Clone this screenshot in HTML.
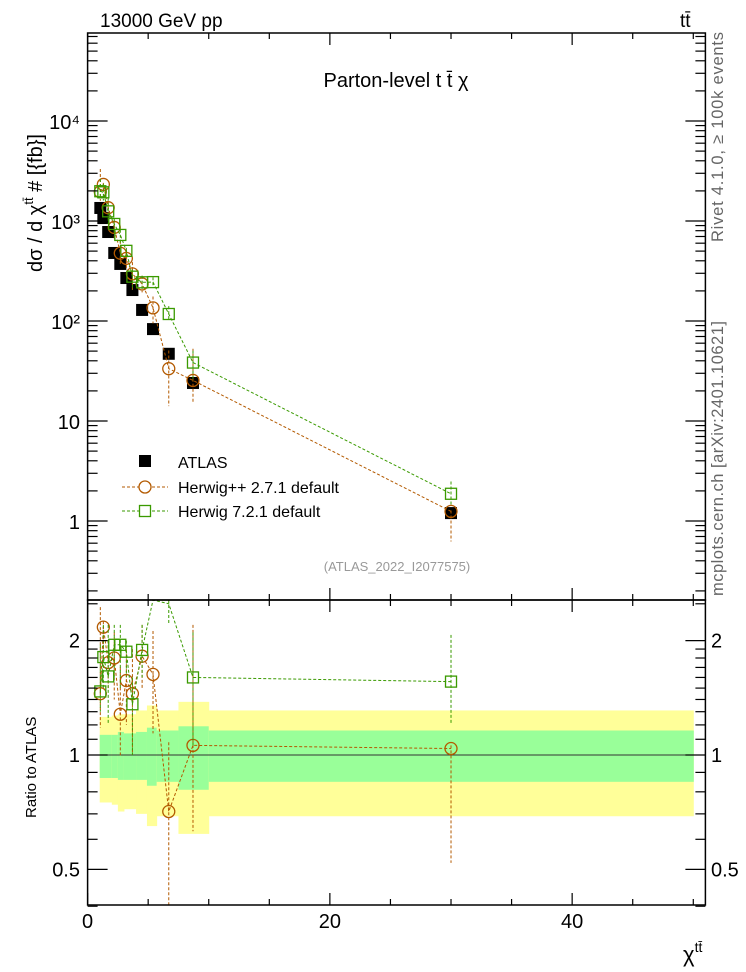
<!DOCTYPE html>
<html><head><meta charset="utf-8"><style>
body{margin:0;background:#fff;}
svg{display:block;font-family:"Liberation Sans","DejaVu Sans",sans-serif;}
</style></head><body>
<svg id="chart" width="746" height="972" viewBox="0 0 746 972" xmlns="http://www.w3.org/2000/svg">
<g id="bands"></g>
<g id="marks"></g>
<g id="axes"></g>
<text x="100" y="27" font-size="19">13000 GeV pp</text>
<text x="680" y="27" font-size="19">tt̄</text>
<text x="396" y="87" font-size="20" text-anchor="middle">Parton-level t t̄ χ</text>
<text x="397" y="571" font-size="13" fill="#999" text-anchor="middle">(ATLAS_2022_I2077575)</text>
<text transform="translate(723,242) rotate(-90)" font-size="16.5" fill="#666" textLength="210">Rivet 4.1.0, ≥ 100k events</text>
<text transform="translate(723,596) rotate(-90)" font-size="16.5" fill="#666" textLength="275">mcplots.cern.ch [arXiv:2401.10621]</text>
<text transform="translate(42,272) rotate(-90)" font-size="20">dσ / d χ<tspan dy="-9" font-size="13">tt̄</tspan><tspan dy="9"> # [{fb}]</tspan></text>
<text transform="translate(36,818) rotate(-90)" font-size="15">Ratio to ATLAS</text>
<text x="683" y="962" font-size="22">χ<tspan dy="-10" font-size="14">tt̄</tspan></text>
<g>
<rect x="139" y="455" width="12" height="12" fill="#000"/>
<text x="178" y="468" font-size="16">ATLAS</text>
<line x1="122" y1="487" x2="168" y2="487" stroke="#b35a00" stroke-dasharray="3,2"/>
<circle cx="145" cy="487" r="6" fill="#fff" stroke="#b35a00" stroke-width="1.3"/>
<text x="178" y="493" font-size="16">Herwig++ 2.7.1 default</text>
<line x1="122" y1="511" x2="168" y2="511" stroke="#3a9a00" stroke-dasharray="3,2"/>
<rect x="139.5" y="505.5" width="11" height="11" fill="#fff" stroke="#3a9a00" stroke-width="1.3"/>
<text x="178" y="517" font-size="16">Herwig 7.2.1 default</text>
</g>
</svg>
<script>
const xBins=[1.05,1.3,1.7,2.2,2.7,3.2,3.7,4.5,5.4,6.7,8.7,30];
const atlasVals=[1350,1070,776,479,372,269,204,129,83,47,24,1.2];
const hppRatio=[1.45,2.17,1.75,1.8,1.28,1.57,1.45,1.82,1.63,0.71,1.06,1.04];
const hppHi=[2.45,2.25,2.0,2.1,1.7,1.9,1.9,2.2,2.12,1.08,2.2,1.06];
const hppLo=[1.18,1.9,1.5,1.4,0.99,1.2,1.0,1.5,1.14,0.3,0.63,0.52];
const h7Ratio=[1.47,1.81,1.61,1.95,1.95,1.87,1.36,1.89,2.95,2.5,1.6,1.56];
const h7Hi=[1.95,2.2,2.2,2.2,2.2,2.0,1.6,2.2,3.3,3.0,2.1,2.07];
const h7Lo=[1.3,1.5,1.2,1.6,1.5,1.6,1.0,1.6,2.6,2.2,1.05,1.2];
const bandEdges=[1.0,2.0,2.5,3.0,4.0,4.9,5.7,7.5,10,50];
const yellowHi=[1.26,1.27,1.28,1.28,1.31,1.35,1.31,1.38,1.31];
const yellowLo=[0.75,0.74,0.71,0.72,0.70,0.65,0.69,0.62,0.69];
const greenHi=[1.13,1.13,1.15,1.14,1.15,1.18,1.16,1.19,1.16];
const greenLo=[0.87,0.87,0.86,0.86,0.86,0.83,0.85,0.81,0.85];
const xTicks=[0,20,40];
const mainTicks=[["10⁴",4],["10³",3],["10²",2],["10",1],["1",0]];
const ratioTicks=[["2",2],["1",1],["0.5",0.5]];

const NS="http://www.w3.org/2000/svg";
const L=87.6,R=705.4,T1=33,B1=600,T2=600,B2=905;
const X=v=>L+v*(R-L)/51;
const Y=v=>521-100*Math.log10(v);
const YR=r=>755-380*Math.log10(r);
function mk(tag,at,parent){const e=document.createElementNS(NS,tag);for(const k in at)e.setAttribute(k,at[k]);parent.appendChild(e);return e;}
const bands=document.getElementById('bands'),marks=document.getElementById('marks'),axes=document.getElementById('axes');
const cl=v=>Math.max(T1,Math.min(B1,v));
const clr=v=>Math.max(T2,Math.min(B2,v));
for(let i=0;i<bandEdges.length-1;i++){
  const x1=X(bandEdges[i]),x2=X(bandEdges[i+1]);
  const y=mk('rect',{x:x1,y:YR(yellowHi[i]),width:x2-x1+0.5,height:YR(yellowLo[i])-YR(yellowHi[i]),fill:'#ffff99'},bands);
  
  
  const g=mk('rect',{x:x1,y:YR(greenHi[i]),width:x2-x1+0.5,height:YR(greenLo[i])-YR(greenHi[i]),fill:'#99ff99'},bands);
  
  
}
const ref=mk('line',{x1:L,x2:R,y1:YR(1),y2:YR(1),stroke:'#333','stroke-width':1},bands);


function series(ratio,hi,lo,col,shape,name){
  let pm='',pr='';
  xBins.forEach((x,i)=>{
    const px=X(x);
    pm+=(i?'L':'M')+px+','+cl(Y(atlasVals[i]*ratio[i]));
    pr+=(i?'L':'M')+px+','+clr(YR(ratio[i]));
  });
  const l1=mk('path',{d:pm,fill:'none',stroke:col,'stroke-dasharray':'3,2','stroke-width':1},marks);
  
  
  const l2=mk('path',{d:pr,fill:'none',stroke:col,'stroke-dasharray':'3,2','stroke-width':1},marks);
  
  
  xBins.forEach((x,i)=>{
    const px=X(x);
    const e1=mk('line',{x1:px,x2:px,y1:cl(Y(atlasVals[i]*hi[i])),y2:cl(Y(atlasVals[i]*lo[i])),stroke:col,'stroke-dasharray':'3,2'},marks);
    
    
    const e2=mk('line',{x1:px,x2:px,y1:clr(YR(hi[i])),y2:clr(YR(lo[i])),stroke:col,'stroke-dasharray':'3,2'},marks);
    
    
    const pts=[[Y(atlasVals[i]*ratio[i]),T1,B1,'-point'],[YR(ratio[i]),T2,B2,'-ratio-point']];
    pts.forEach(([py,t,b,suf])=>{
      if(py<t+6||py>b-6)return;
      let m;
      if(shape==='c')m=mk('circle',{cx:px,cy:py,r:6,fill:'none',stroke:col,'stroke-width':1.3},marks);
      else m=mk('rect',{x:px-5.5,y:py-5.5,width:11,height:11,fill:'none',stroke:col,'stroke-width':1.3},marks);
      
      
    });
  });
}
xBins.forEach((x,i)=>{
  const s=mk('rect',{x:X(x)-6,y:Y(atlasVals[i])-6,width:12,height:12,fill:'#000'},marks);
  
  
});
series(hppRatio,hppHi,hppLo,'#b35a00','c','herwigpp');
series(h7Ratio,h7Hi,h7Lo,'#3a9a00','s','herwig7');
[[T1,B1,'main-frame'],[T2,B2,'ratio-frame']].forEach(([t,b,n])=>{
  const f=mk('rect',{x:L,y:t,width:R-L,height:b-t,fill:'none',stroke:'#000','stroke-width':1.5},axes);
  
  
});
function tk(x1,y1,x2,y2){mk('line',{x1,y1,x2,y2,stroke:'#000','stroke-width':1.2},axes);}
for(let v=0;v<=50;v+=5){
  const px=X(v),len=(v%20===0)?12:6;
  [T1,T2].forEach(t=>tk(px,t,px,t+len));
  [B1,B2].forEach(b=>tk(px,b,px,b-len));
}
xTicks.forEach(v=>{
  const t=mk('text',{x:X(v),y:928,'font-size':20,'text-anchor':'middle'},axes);t.textContent=v;
  
  
});
for(let d=-1;d<=4;d++){for(let m=1;m<=9;m++){
  const y=Y(m*Math.pow(10,d));if(y<T1||y>B1)continue;
  const len=m===1?20:10;tk(L,y,L+len,y);tk(R,y,R-len,y);
}}
mainTicks.forEach(([s,e])=>{
  const t=mk('text',{x:80,y:Y(Math.pow(10,e))+8,'font-size':20,'text-anchor':'end'},axes);t.textContent=s;
  
  
});
[0.4,0.5,0.6,0.7,0.8,0.9,1,1.1,1.2,1.3,1.4,1.5,1.6,1.7,1.8,1.9,2,2.5].forEach(r=>{
  const y=YR(r);const len=(r===0.5||r===1||r===2)?20:10;tk(L,y,L+len,y);tk(R,y,R-len,y);
});
ratioTicks.forEach(([s,r])=>{
  const t=mk('text',{x:80,y:YR(r)+7,'font-size':20,'text-anchor':'end'},axes);t.textContent=s;
  
  
  const t2=mk('text',{x:711,y:YR(r)+7,'font-size':20},axes);t2.textContent=s;
  
  
});
</script>
</body></html>
